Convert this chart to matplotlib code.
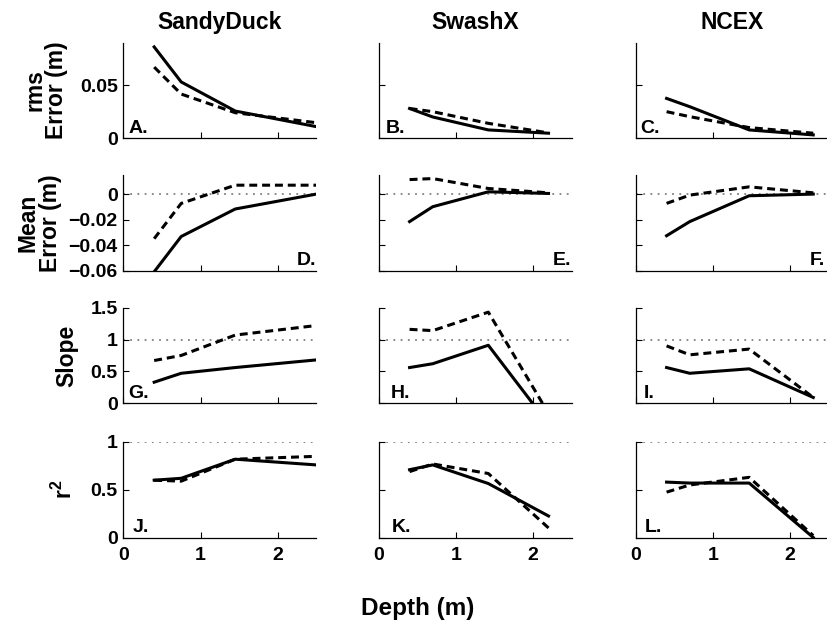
import matplotlib
matplotlib.use("Agg")
import matplotlib.pyplot as plt

# ── Data ───────────────────────────────────────────────────────────────
sites = ["SandyDuck", "SwashX", "NCEX"]

depth_sd = [0.4, 0.75, 1.45, 2.5]
depth_sx = [0.4, 0.7, 1.42, 2.2]
depth_nc = [0.4, 0.7, 1.47, 2.3]

# rms error (m)
sd_rms = [0.086, 0.053, 0.0256, 0.0109]
sd_rms_dash = [0.067, 0.0416, 0.024, 0.0146]
sx_rms = [0.028, 0.020, 0.0078, 0.0047]
sx_rms_dash = [0.028, 0.025, 0.014, 0.005]
nc_rms = [0.0375, 0.0297, 0.0078, 0.0031]
nc_rms_dash = [0.025, 0.0203, 0.010, 0.0047]

# mean error (m)
sd_mean = [-0.061, -0.0333, -0.0117, 0.0]
sd_mean_dash = [-0.035, -0.0073, 0.007, 0.007]
sx_mean = [-0.0216, -0.0099, 0.0018, 0.0005]
sx_mean_dash = [0.0114, 0.0122, 0.0044, 0.001]
nc_mean = [-0.0327, -0.0216, -0.0013, 0.0]
nc_mean_dash = [-0.0073, -0.0008, 0.0057, 0.001]

# slope
sd_slope = [0.33, 0.47, 0.56, 0.68]
sd_slope_dash = [0.67, 0.75, 1.07, 1.22]
sx_slope = [0.56, 0.62, 0.91, -0.33]
sx_slope_dash = [1.16, 1.14, 1.43, -0.16]
nc_slope = [0.56, 0.47, 0.54, 0.09]
nc_slope_dash = [0.90, 0.76, 0.85, 0.09]

# r^2
sd_r2 = [0.60, 0.62, 0.82, 0.76]
sd_r2_dash = [0.60, 0.59, 0.82, 0.85]
sx_r2 = [0.71, 0.76, 0.565, 0.225]
sx_r2_dash = [0.69, 0.77, 0.67, 0.10]
nc_r2 = [0.58, 0.57, 0.57, 0.0]
nc_r2_dash = [0.475, 0.55, 0.63, 0.02]

depths = [depth_sd, depth_sx, depth_nc]
solid = [
    [sd_rms, sx_rms, nc_rms],
    [sd_mean, sx_mean, nc_mean],
    [sd_slope, sx_slope, nc_slope],
    [sd_r2, sx_r2, nc_r2],
]
dashed = [
    [sd_rms_dash, sx_rms_dash, nc_rms_dash],
    [sd_mean_dash, sx_mean_dash, nc_mean_dash],
    [sd_slope_dash, sx_slope_dash, nc_slope_dash],
    [sd_r2_dash, sx_r2_dash, nc_r2_dash],
]

row_labels = ["rms\nError (m)", "Mean\nError (m)", "Slope", "r$^2$"]
row_ylims = [(0, 0.09), (-0.06, 0.015), (0, 1.5), (0, 1)]
row_yticks = [[0, 0.05], [-0.06, -0.04, -0.02, 0], [0, 0.5, 1, 1.5], [0, 0.5, 1]]
row_yticklabels = [["0", "0.05"], ["\u22120.06", "\u22120.04", "\u22120.02", "0"],
                   ["0", "0.5", "1", "1.5"], ["0", "0.5", "1"]]
row_refline = [None, 0, 1, 1]
letters = [["A.", "B.", "C."], ["D.", "E.", "F."], ["G.", "H.", "I."], ["J.", "K.", "L."]]
letter_x = [[0.026, 0.038, 0.022], [1.0, 1.0, 0.983], [0.026, 0.06, 0.04], [0.05, 0.067, 0.048]]

# ── Layout (pixels -> figure fractions) ────────────────────────────────
W, H = 827, 624
plt.rcParams["font.family"] = ["Liberation Sans", "DejaVu Sans"]
plt.rcParams["font.weight"] = "bold"
plt.rcParams["mathtext.fontset"] = "custom"
plt.rcParams["mathtext.bf"] = "Liberation Sans:bold"
plt.rcParams["mathtext.rm"] = "Liberation Sans:bold"
plt.rcParams["mathtext.default"] = "bf"

fig = plt.figure(figsize=(W / 100, H / 100), dpi=100)

col_left = [123.3, 378.7, 635.7]
col_width = 193
row_top = [42.7, 175, 307.7, 442]
row_height = 95.5
# right edge of the rotated y label, in axes coords
label_x = [-0.285, -0.32, -0.235, -0.24]

for r in range(4):
    for c in range(3):
        left = col_left[c] / W
        bottom = 1 - (row_top[r] + row_height) / H
        ax = fig.add_axes([left, bottom, col_width / W, row_height / H])

        if row_refline[r] is not None:
            ax.axhline(row_refline[r], color="0.5", lw=1.3,
                       linestyle=(0, (1, 3)), zorder=1)

        ax.plot(depths[c], dashed[r][c], color="black", lw=2.2,
                linestyle=(0, (2.6, 1.6)), zorder=2)
        ax.plot(depths[c], solid[r][c], color="black", lw=2.2, zorder=3)

        ax.set_xlim(0, 2.5)
        ax.set_ylim(*row_ylims[r])
        ax.set_xticks([0, 1, 2])
        ax.set_yticks(row_yticks[r])

        for side in ["top", "right"]:
            ax.spines[side].set_visible(False)
        for side in ["left", "bottom"]:
            ax.spines[side].set_linewidth(0.9)
        ax.tick_params(direction="in", length=4, width=0.8, labelsize=14, pad=4)

        if c == 0:
            ax.set_yticklabels(row_yticklabels[r], fontweight="bold")
            ax.set_ylabel(row_labels[r], fontsize=16.5, fontweight="bold",
                          linespacing=0.95)
            ax.yaxis.set_label_coords(label_x[r], 0.5)
        else:
            ax.set_yticklabels([])

        if r == 3:
            ax.set_xticklabels(["0", "1", "2"], fontweight="bold")
            ax.tick_params(axis="x", pad=7)
        else:
            ax.set_xticklabels([])

        if r == 0:
            ax.set_title(sites[c], fontsize=16.5, fontweight="bold", pad=10)

        # panel letters: bottom-right in the mean-error row, bottom-left elsewhere
        ax.text(letter_x[r][c], 0.015, letters[r][c], transform=ax.transAxes,
                ha="right" if r == 1 else "left", va="bottom",
                fontsize=14, fontweight="bold")

fig.text(418 / W, 1 - 608 / H, "Depth (m)", ha="center", va="center",
         fontsize=17.5, fontweight="bold")

fig.savefig("out.png", dpi=100)
